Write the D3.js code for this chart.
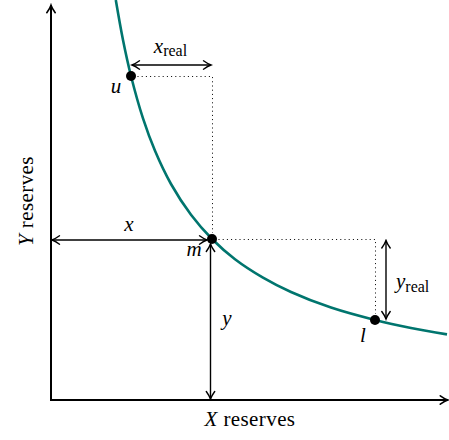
<!DOCTYPE html>
<html><head><meta charset="utf-8">
<script src="https://cdn.jsdelivr.net/npm/d3@7"></script>
<style>html,body{margin:0;padding:0;background:#fff;}svg{display:block;}</style>
</head><body>
<svg id="chart" width="449" height="440"></svg>
<script>
// Curve samples (X reserves, Y reserves)
const curveX = [1.62, 1.8, 2.0, 2.3, 2.6, 3.0, 3.5, 4.025, 4.6, 5.3, 6.0, 7.0, 8.1, 9.0, 9.9];
const curveY = [10.0, 9.0, 8.1, 7.04, 6.23, 5.4, 4.63, 4.025, 3.52, 3.06, 2.7, 2.31, 2.0, 1.8, 1.64];
// Marked points
const pointNames = ["u", "m", "l"];
const pointX = [2.0, 4.025, 8.1];
const pointY = [8.1, 4.025, 2.0];
const axisLabels = ["X", "Y"];

const svg = d3.select("#chart");
const x = d3.scaleLinear().domain([0, 10]).range([51, 451]);
const y = d3.scaleLinear().domain([0, 10]).range([400, 0]);
const teal = "#00756e";
const font = "'Liberation Serif', 'Times New Roman', serif";

const defs = svg.append("defs");
function marker(id, sw) {
  defs.append("marker").attr("id", id)
    .attr("viewBox", "-10 -6 12 12").attr("refX", 0).attr("refY", 0)
    .attr("markerUnits", "userSpaceOnUse")
    .attr("markerWidth", 12).attr("markerHeight", 12)
    .attr("orient", "auto-start-reverse")
    .append("path")
    .attr("d", "M-7.5,-4.2 Q-3,-1 0,0 Q-3,1 -7.5,4.2")
    .attr("fill", "none").attr("stroke", "#000").attr("stroke-width", sw)
    .attr("stroke-linecap", "round");
}
marker("ah", 1.4);
marker("ahAxis", 1.6);

const P = pointNames.map((n, i) => ({ n, x: pointX[i], y: pointY[i] }));
const [u, m, l] = P;

// axes
svg.append("path")
  .attr("d", `M${x(0)},${y(9.87)} L${x(0)},${y(0)} L${x(9.92)},${y(0)}`)
  .attr("fill", "none").attr("stroke", "#000").attr("stroke-width", 2)
  .attr("marker-start", "url(#ahAxis)").attr("marker-end", "url(#ahAxis)");

// dotted guides (snapped to pixel centres for crisp dots)
const snap = v => Math.round(v) + 0.5;
const dot = svg.append("g").attr("fill", "none").attr("stroke", "#000")
  .attr("stroke-width", 1).attr("stroke-dasharray", "1,3.2");
dot.append("path").attr("d", `M${snap(x(u.x) + 6)},${snap(y(u.y))} L${snap(x(m.x))},${snap(y(u.y))} L${snap(x(m.x))},${y(m.y) - 6}`);
dot.append("path").attr("d", `M${snap(x(m.x) + 6)},${snap(y(m.y))} L${snap(x(l.x))},${snap(y(m.y))} L${snap(x(l.x))},${y(l.y) - 6}`);

// curve
const line = d3.line().x(d => x(d[0])).y(d => y(d[1])).curve(d3.curveCatmullRom.alpha(0.5));
svg.append("path").datum(curveX.map((v, i) => [v, curveY[i]]))
  .attr("d", line).attr("fill", "none").attr("stroke", teal).attr("stroke-width", 2.6);

// measurement arrows
const arr = svg.append("g").attr("stroke", "#000").attr("stroke-width", 1.4).attr("fill", "none");
function dArrow(x1, y1, x2, y2) {
  arr.append("line").attr("x1", x1).attr("y1", y1).attr("x2", x2).attr("y2", y2)
    .attr("marker-start", "url(#ah)").attr("marker-end", "url(#ah)");
}
dArrow(x(u.x) + 1, y(u.y) - 11, x(m.x) - 1, y(u.y) - 11);
dArrow(x(l.x) + 11, y(m.y) + 1.5, x(l.x) + 11, y(l.y) - 1);
dArrow(x(0) + 1, y(m.y) + 1, x(m.x) - 5, y(m.y) + 1);
dArrow(x(m.x) - 1.5, y(0) - 1, x(m.x) - 1.5, y(m.y) + 5);

// points
svg.append("g").selectAll("circle").data(P).join("circle")
  .attr("cx", d => x(d.x)).attr("cy", d => y(d.y)).attr("r", 5).attr("fill", "#000");

// labels
const T = svg.append("g").attr("font-family", font).attr("fill", "#000");
function mathLabel(txt, sub, cx, by) {
  const t = T.append("text").attr("x", cx).attr("y", by).attr("text-anchor", "middle").attr("font-size", 21);
  t.append("tspan").attr("font-style", "italic").text(txt);
  if (sub) t.append("tspan").attr("font-size", 16).attr("dy", 3).text(sub);
  return t;
}
mathLabel("x", "real", x((u.x + m.x) / 2) - 1, y(u.y) - 23);
T.append("text").attr("x", x(l.x) + 21).attr("y", 288).attr("font-size", 21)
  .call(t => { t.append("tspan").attr("font-style", "italic").text("y");
               t.append("tspan").attr("font-size", 16).attr("dy", 4).text("real"); });
mathLabel("x", null, 129, 231);
mathLabel("y", null, 227, 325);
mathLabel("u", null, 116, 93);
mathLabel("m", null, 194, 256);
mathLabel("l", null, 363, 342);

// axis titles
const xt = T.append("text").attr("x", 250).attr("y", 426).attr("text-anchor", "middle")
  .attr("font-size", 21).attr("letter-spacing", 0.4);
xt.append("tspan").attr("font-style", "italic").text(axisLabels[0]);
xt.append("tspan").text(" reserves");
const yt = T.append("text").attr("transform", "translate(33,201) rotate(-90)").attr("text-anchor", "middle")
  .attr("font-size", 21).attr("letter-spacing", 0.4);
yt.append("tspan").attr("font-style", "italic").text(axisLabels[1]);
yt.append("tspan").text(" reserves");
</script>
</body></html>
